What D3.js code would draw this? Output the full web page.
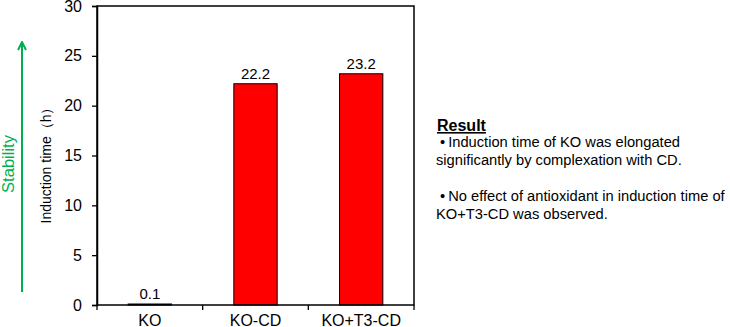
<!DOCTYPE html>
<html><head><meta charset="utf-8">
<script src="https://cdn.jsdelivr.net/npm/d3@7"></script>
<style>body{margin:0;background:#fff;} svg{display:block;font-family:"Liberation Sans",Arial,sans-serif;}</style>
</head><body>
<svg id="c" width="730" height="327"></svg>
<script>
const categories = ["KO", "KO-CD", "KO+T3-CD"];
const values = [0.1, 22.2, 23.2];
const valueLabels = ["0.1", "22.2", "23.2"];
const yTicks = [0, 5, 10, 15, 20, 25, 30];
const yLabel = "Induction time（h）";
const sideLabel = "Stability";
const noteTitle = "Result";
const noteLines = [" •\u2009Induction time of KO was elongated", "significantly by complexation with CD.", "", " •\u2009No effect of antioxidant in induction time of", "KO+T3-CD was observed."];

const svg = d3.select("#c");
const L = 97, R = 414, T = 6, B = 305;
const x = d3.scaleBand().domain(categories).range([L, R]).paddingInner(0.59).paddingOuter(0.295);
const y = d3.scaleLinear().domain([0, 30]).range([B, T]);

// bars
svg.append("g").selectAll("rect").data(values).join("rect")
  .attr("x", (d, i) => x(categories[i]))
  .attr("y", d => y(d))
  .attr("width", x.bandwidth())
  .attr("height", d => Math.max(0.5, B - y(d)))
  .attr("fill", "#ff0000").attr("stroke", "#000").attr("stroke-width", 1);

// value labels
svg.append("g").selectAll("text").data(values).join("text")
  .attr("x", (d, i) => x(categories[i]) + x.bandwidth() / 2)
  .attr("y", d => y(d) - 5)
  .attr("text-anchor", "middle").attr("font-size", 15).attr("fill", "#000")
  .text((d, i) => valueLabels[i]);

// frame
svg.append("rect").attr("x", L).attr("y", T).attr("width", R - L).attr("height", B - T)
  .attr("fill", "none").attr("stroke", "#000").attr("stroke-width", 1.5);

// y axis
const ya = svg.append("g").attr("transform", `translate(${L},0)`)
  .call(d3.axisLeft(y).tickValues(yTicks).tickSize(5).tickPadding(10));
ya.select(".domain").attr("stroke-width", 1.5);
ya.selectAll("line").attr("stroke-width", 1.3);
ya.selectAll("text").attr("font-size", 16).attr("font-family", "Liberation Sans, Arial, sans-serif").attr("fill", "#000");

// x axis: ticks at band boundaries
const bounds = [L].concat(categories.map(c => x(c) + x.bandwidth() / 2 + x.step() / 2));
svg.append("g").selectAll("line").data(bounds).join("line")
  .attr("x1", d => d).attr("x2", d => d).attr("y1", B).attr("y2", B + 5)
  .attr("stroke", "#000").attr("stroke-width", 1.3);
svg.append("g").selectAll("text").data(categories).join("text")
  .attr("x", d => x(d) + x.bandwidth() / 2).attr("y", 325.5)
  .attr("text-anchor", "middle").attr("font-size", 16).attr("fill", "#000")
  .text(d => d);

// y label
svg.append("text").attr("transform", "translate(51,162) rotate(-90)")
  .attr("text-anchor", "middle").attr("font-size", 14).attr("fill", "#000").text(yLabel);

// stability arrow
const green = "#00b050";
svg.append("defs").append("marker").attr("id", "ah").attr("viewBox", "0 0 10 10")
  .attr("refX", 9).attr("refY", 5).attr("markerWidth", 10).attr("markerHeight", 10)
  .attr("markerUnits", "userSpaceOnUse").attr("orient", "auto")
  .append("path").attr("d", "M1,1 L9,5 L1,9").attr("fill", "none").attr("stroke", green).attr("stroke-width", 2);
svg.append("line").attr("x1", 22).attr("x2", 22).attr("y1", 292).attr("y2", 42)
  .attr("stroke", green).attr("stroke-width", 2).attr("marker-end", "url(#ah)");
svg.append("text").attr("transform", "translate(14,164) rotate(-90)")
  .attr("text-anchor", "middle").attr("font-size", 16.5).attr("fill", green).text(sideLabel);

// notes
svg.append("text").attr("x", 437).attr("y", 131).attr("font-size", 16).attr("font-weight", "bold")
  .attr("text-decoration", "underline").attr("fill", "#000").text(noteTitle);
svg.append("g").selectAll("text").data(noteLines).join("text")
  .attr("x", 436).attr("y", (d, i) => 147 + i * 18)
  .attr("font-size", 14.7).attr("fill", "#000")
  .style("white-space", "pre").text(d => d);
</script>
</body></html>
